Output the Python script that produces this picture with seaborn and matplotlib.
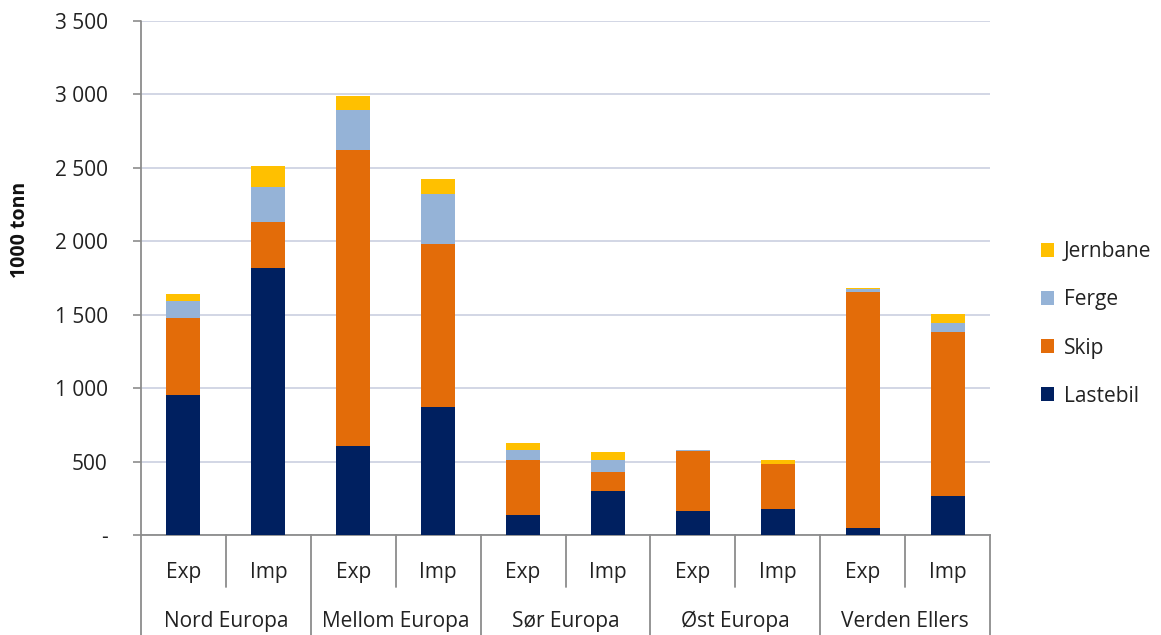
import matplotlib
matplotlib.use("Agg")
import matplotlib.pyplot as plt
from matplotlib.patches import Patch
from matplotlib.transforms import blended_transform_factory
import numpy as np
import pandas as pd
import seaborn as sns

# Freight volumes (1000 tonn) by region and direction
regions = ["Nord Europa", "Mellom Europa", "Sør Europa", "Øst Europa", "Verden Ellers"]
directions = ["Exp", "Imp"]

lastebil = [955, 1817, 605, 875, 139, 297, 163, 180, 46, 264]
skip = [523, 315, 2019, 1107, 374, 130, 407, 302, 1609, 1117]
ferge = [116, 239, 268, 337, 64, 85, 10, 2, 23, 64]
jernbane = [45, 141, 98, 105, 52, 56, 2, 27, 7, 59]

series_names = ["Lastebil", "Skip", "Ferge", "Jernbane"]
series_values = [lastebil, skip, ferge, jernbane]
series_colors = ["#002060", "#E36C09", "#95B3D7", "#FFC000"]

y_ticks = [0, 500, 1000, 1500, 2000, 2500, 3000, 3500]

sns.set_theme(style="white")
plt.rcParams["font.family"] = ["Open Sans", "DejaVu Sans"]

FS = 15
TXT = "#222222"

keys = [f"{r}|{d}" for r in regions for d in directions]
cum = np.cumsum(np.array(series_values), axis=0)

fig = plt.figure(figsize=(11.61, 6.35), dpi=100)
ax = fig.add_axes([141 / 1161, 100 / 635, 849 / 1161, 514 / 635])

# Stacked bars: draw cumulative totals from the top layer down
for i in range(len(series_names) - 1, -1, -1):
    df = pd.DataFrame({"key": keys, "value": cum[i]})
    sns.barplot(data=df, x="key", y="value", order=keys, color=series_colors[i],
                width=0.4, saturation=1, ax=ax, zorder=3, linewidth=0)

ax.set_xlim(-0.5, len(keys) - 0.5)
ax.set_ylim(0, 3500)
ax.set_yticks(y_ticks)
ax.set_yticklabels([("-" if v == 0 else f"{v:,}".replace(",", " ")) for v in y_ticks],
                   fontsize=FS, color=TXT)
ax.yaxis.grid(True, color="#CFD3E3", linewidth=1.3, zorder=0)
ax.set_axisbelow(True)
ax.tick_params(axis="y", which="major", left=True, length=6, width=1.2,
               color="#8C8C8C", pad=18)
ax.tick_params(axis="x", bottom=False, labelbottom=False)
ax.set_xlabel("")
ax.set_ylabel("1000 tonn", fontsize=14, fontweight="bold", color="#111111")
ax.yaxis.set_label_coords(-0.131, 0.593)

for s in ["top", "right", "left"]:
    ax.spines[s].set_visible(False)
ax.spines["bottom"].set_color("#8C8C8C")
ax.spines["bottom"].set_linewidth(1.3)

# Two-level category axis
tr = blended_transform_factory(ax.transData, ax.transAxes)
for j, k in enumerate(keys):
    ax.text(j, -0.072, k.split("|")[1], transform=tr, ha="center", va="center",
            fontsize=FS, color=TXT)
for g, r in enumerate(regions):
    ax.text(2 * g + 0.5, -0.168, r, transform=tr, ha="center", va="center",
            fontsize=FS, color=TXT)
for j in range(len(keys) + 1):
    x = j - 0.5
    y_end = -0.195 if j % 2 == 0 else -0.101
    ax.plot([x, x], [0, y_end], transform=tr, color="#8C8C8C", linewidth=1.3,
            clip_on=False, zorder=4)
ax.plot([-0.5, -0.5], [0, 1], transform=tr, color="#8C8C8C", linewidth=1.3,
        clip_on=False, zorder=4)

handles = [Patch(facecolor=c, edgecolor="none") for c in series_colors]
leg = fig.legend(handles[::-1], series_names[::-1], loc="center left",
                 bbox_to_anchor=(1026 / 1161, 311 / 635), frameon=False,
                 fontsize=FS, handlelength=0.65, handleheight=0.65,
                 handletextpad=0.45, labelspacing=1.3, borderpad=0.2)
for t in leg.get_texts():
    t.set_color(TXT)

fig.savefig("out.png", dpi=100)
